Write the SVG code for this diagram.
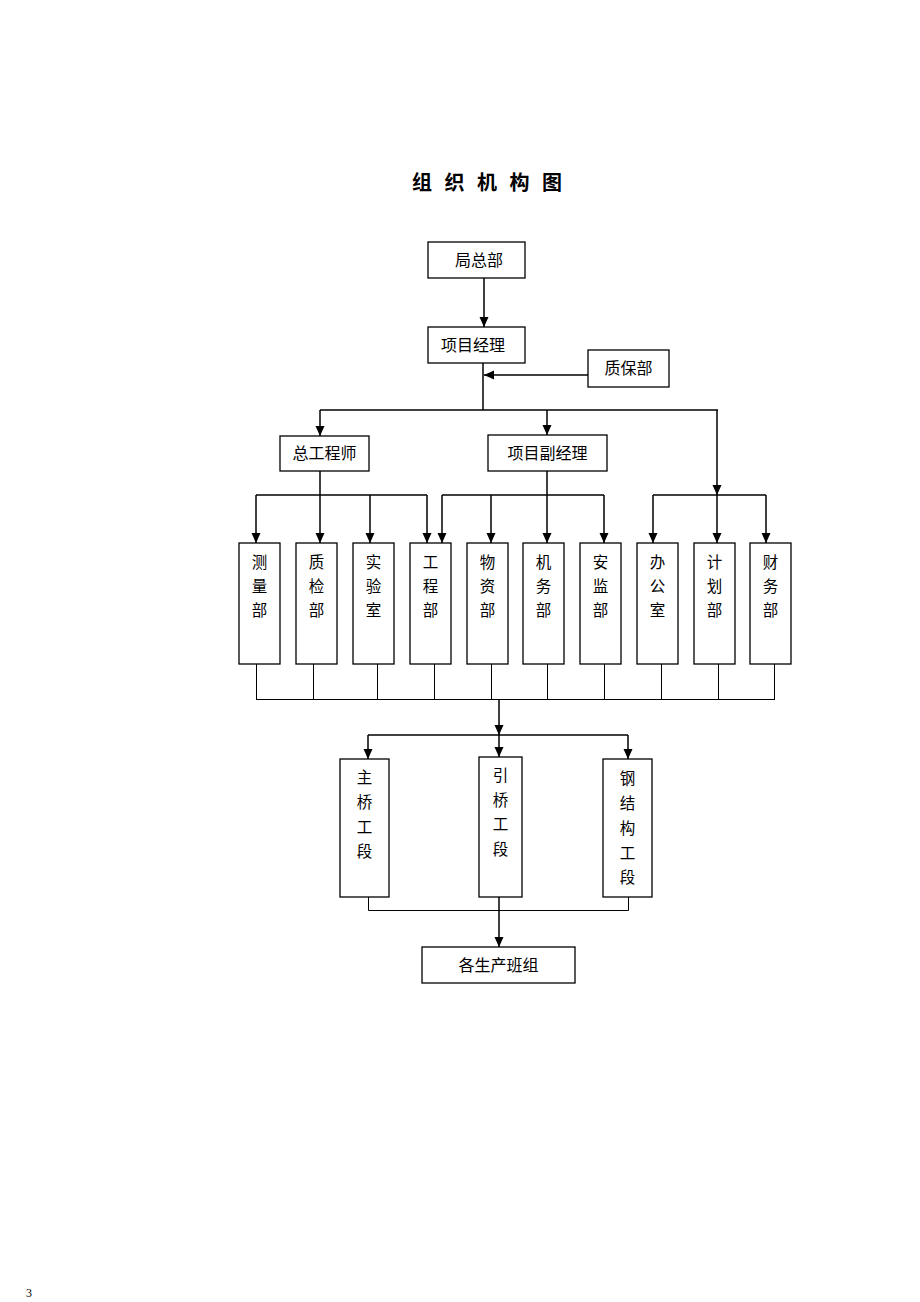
<svg xmlns="http://www.w3.org/2000/svg" width="920" height="1302" viewBox="0 0 920 1302">
<style>
.box{fill:#fff;stroke:#000;stroke-width:1.3}
.t{font-family:"Noto Sans CJK SC","Noto Sans CJK TC",sans-serif;font-size:16px;fill:#000}
.tv{font-family:"Noto Sans CJK SC","Noto Sans CJK TC",sans-serif;font-size:15.5px;fill:#000;text-anchor:middle}
.c{stroke:#000;stroke-width:1.5;fill:none}
.thin{stroke:#000;stroke-width:1;fill:none}
.a{stroke:#000;stroke-width:1.5;fill:none;marker-end:url(#ah)}
</style>
<defs>
<marker id="ah" markerUnits="userSpaceOnUse" markerWidth="11" markerHeight="10" refX="10" refY="4.5" orient="auto">
<path d="M0,0 L10,4.5 L0,9 z" fill="#000"/>
</marker>
</defs>
<rect width="920" height="1302" fill="#fff"/>
<text x="412" y="190" font-family="'Noto Sans CJK SC',sans-serif" font-size="20" font-weight="bold" letter-spacing="12.5">组织机构图</text>

<g id="connectors">
<line class="a" x1="484" y1="278" x2="484" y2="327"/>
<line class="a" x1="588" y1="375" x2="484" y2="375"/>
<line class="c" x1="483" y1="363" x2="483" y2="410"/>
<line class="c" x1="320" y1="410" x2="718" y2="410"/>
<line class="a" x1="320" y1="410" x2="320" y2="436"/>
<line class="a" x1="547" y1="410" x2="547" y2="435"/>
<line class="a" x1="717" y1="410" x2="717" y2="495"/>

<line class="c" x1="320" y1="471" x2="320" y2="495"/>
<line class="c" x1="256" y1="495" x2="427" y2="495"/>
<line class="a" x1="256" y1="495" x2="256" y2="543"/>
<line class="a" x1="320" y1="495" x2="320" y2="543"/>
<line class="a" x1="370" y1="495" x2="370" y2="543"/>
<line class="a" x1="427" y1="495" x2="427" y2="543"/>

<line class="c" x1="547" y1="471" x2="547" y2="495"/>
<line class="c" x1="442" y1="495" x2="604" y2="495"/>
<line class="a" x1="442" y1="495" x2="442" y2="543"/>
<line class="a" x1="491" y1="495" x2="491" y2="543"/>
<line class="a" x1="547" y1="495" x2="547" y2="543"/>
<line class="a" x1="604" y1="495" x2="604" y2="543"/>

<line class="c" x1="653" y1="495" x2="766" y2="495"/>
<line class="a" x1="653" y1="495" x2="653" y2="543"/>
<line class="a" x1="717" y1="495" x2="717" y2="543"/>
<line class="a" x1="766" y1="495" x2="766" y2="543"/>

<path class="thin" d="M256.5,664V700M313.5,664V700M377.5,664V700M434.5,664V700M491.5,664V700M547.5,664V700M604.5,664V700M661.5,664V700M718.5,664V700M774.5,664V700M256,699.5H775"/>

<line class="a" x1="499" y1="700" x2="499" y2="735"/>
<line class="c" x1="368" y1="735" x2="628" y2="735"/>
<line class="a" x1="368" y1="735" x2="368" y2="759"/>
<line class="a" x1="499" y1="735" x2="499" y2="757"/>
<line class="a" x1="628" y1="735" x2="628" y2="759"/>

<path class="thin" d="M368.5,897V910.5H628.5V897"/>
<line class="a" x1="499" y1="897" x2="499" y2="947"/>
</g>

<g id="n-juzongbu"><rect class="box" x="428" y="242" width="97" height="36"/><text class="t" x="479" y="266" text-anchor="middle">局总部</text></g>
<g id="n-xiangmujingli"><rect class="box" x="428" y="327" width="97" height="36"/><text class="t" x="473" y="351" text-anchor="middle">项目经理</text></g>
<g id="n-zhibaobu"><rect class="box" x="588" y="350" width="81" height="37"/><text class="t" x="628.5" y="374" text-anchor="middle">质保部</text></g>
<g id="n-zonggongchengshi"><rect class="box" x="280" y="436" width="89" height="35"/><text class="t" x="324.5" y="459" text-anchor="middle">总工程师</text></g>
<g id="n-xiangmufujingli"><rect class="box" x="488" y="435" width="119" height="36"/><text class="t" x="547.5" y="459" text-anchor="middle">项目副经理</text></g>

<g id="n-celiangbu"><rect class="box" x="239" y="543" width="41" height="121"/><text class="tv" x="259.5" y="568">测</text><text class="tv" x="259.5" y="592">量</text><text class="tv" x="259.5" y="616">部</text></g>
<g id="n-zhijianbu"><rect class="box" x="296" y="543" width="41" height="121"/><text class="tv" x="316.5" y="568">质</text><text class="tv" x="316.5" y="592">检</text><text class="tv" x="316.5" y="616">部</text></g>
<g id="n-shiyanshi"><rect class="box" x="353" y="543" width="41" height="121"/><text class="tv" x="373.5" y="568">实</text><text class="tv" x="373.5" y="592">验</text><text class="tv" x="373.5" y="616">室</text></g>
<g id="n-gongchengbu"><rect class="box" x="410" y="543" width="41" height="121"/><text class="tv" x="430.5" y="568">工</text><text class="tv" x="430.5" y="592">程</text><text class="tv" x="430.5" y="616">部</text></g>
<g id="n-wuzibu"><rect class="box" x="467" y="543" width="41" height="121"/><text class="tv" x="487.5" y="568">物</text><text class="tv" x="487.5" y="592">资</text><text class="tv" x="487.5" y="616">部</text></g>
<g id="n-jiwubu"><rect class="box" x="523" y="543" width="41" height="121"/><text class="tv" x="543.5" y="568">机</text><text class="tv" x="543.5" y="592">务</text><text class="tv" x="543.5" y="616">部</text></g>
<g id="n-anjianbu"><rect class="box" x="580" y="543" width="41" height="121"/><text class="tv" x="600.5" y="568">安</text><text class="tv" x="600.5" y="592">监</text><text class="tv" x="600.5" y="616">部</text></g>
<g id="n-bangongshi"><rect class="box" x="637" y="543" width="41" height="121"/><text class="tv" x="657.5" y="568">办</text><text class="tv" x="657.5" y="592">公</text><text class="tv" x="657.5" y="616">室</text></g>
<g id="n-jihuabu"><rect class="box" x="694" y="543" width="41" height="121"/><text class="tv" x="714.5" y="568">计</text><text class="tv" x="714.5" y="592">划</text><text class="tv" x="714.5" y="616">部</text></g>
<g id="n-caiwubu"><rect class="box" x="750" y="543" width="41" height="121"/><text class="tv" x="770.5" y="568">财</text><text class="tv" x="770.5" y="592">务</text><text class="tv" x="770.5" y="616">部</text></g>

<g id="n-zhuqiao"><rect class="box" x="340" y="759" width="49" height="138"/><text class="tv" x="364.5" y="783">主</text><text class="tv" x="364.5" y="808">桥</text><text class="tv" x="364.5" y="833">工</text><text class="tv" x="364.5" y="857">段</text></g>
<g id="n-yinqiao"><rect class="box" x="479" y="757" width="43" height="140"/><text class="tv" x="500.5" y="781">引</text><text class="tv" x="500.5" y="806">桥</text><text class="tv" x="500.5" y="830">工</text><text class="tv" x="500.5" y="855">段</text></g>
<g id="n-gangjiegou"><rect class="box" x="603" y="759" width="49" height="138"/><text class="tv" x="627.5" y="784">钢</text><text class="tv" x="627.5" y="809">结</text><text class="tv" x="627.5" y="834">构</text><text class="tv" x="627.5" y="859">工</text><text class="tv" x="627.5" y="883">段</text></g>

<g id="n-banzu"><rect class="box" x="422" y="947" width="153" height="36"/><text class="t" x="498.5" y="971" text-anchor="middle">各生产班组</text></g>

<text x="26" y="1297" font-family="'Liberation Serif',serif" font-size="12">3</text>
</svg>
